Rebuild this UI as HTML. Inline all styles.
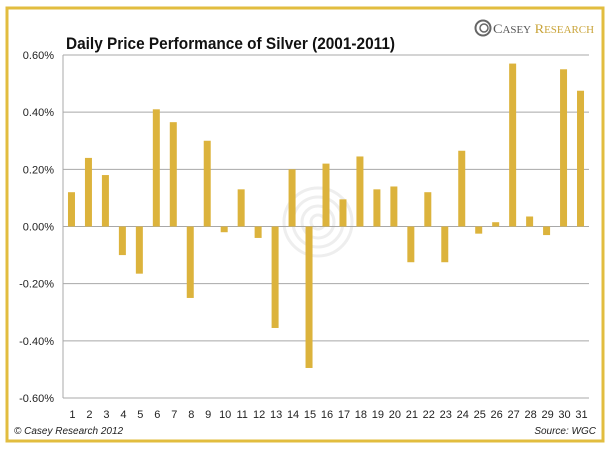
<!DOCTYPE html>
<html><head><meta charset="utf-8"><style>
body{margin:0;background:#fff;}
svg{display:block;font-family:"Liberation Sans",sans-serif;}
</style></head><body>
<svg id="c" width="611" height="450">
<rect x="7" y="8" width="596" height="433" fill="#fff" stroke="#e2bd3f" stroke-width="3"/>
<text x="66" y="49" font-size="17" font-weight="bold" fill="#111" textLength="329" lengthAdjust="spacingAndGlyphs">Daily Price Performance of Silver (2001-2011)</text>
<g>
<circle cx="483" cy="28" r="7.5" fill="none" stroke="#666" stroke-width="2"/>
<circle cx="484" cy="28" r="4" fill="none" stroke="#666" stroke-width="1.5"/>
<text x="493" y="33" font-family="Liberation Serif,serif" font-size="13" fill="#555" textLength="101" lengthAdjust="spacingAndGlyphs">C<tspan font-size="10">ASEY</tspan> <tspan fill="#c9a43a">R</tspan><tspan fill="#c9a43a" font-size="10">ESEARCH</tspan></text>
</g>
<g fill="none" stroke="#eee" stroke-width="3">
<circle cx="318" cy="222" r="34"/><circle cx="318" cy="222" r="25"/><circle cx="318" cy="222" r="16"/><circle cx="318" cy="222" r="7"/>
</g>
<g id="grid"></g><g id="bars"></g><g id="labels"></g>
<text x="14" y="434" font-size="10" font-style="italic" fill="#222">© Casey Research 2012</text>
<text x="596" y="434" font-size="10" font-style="italic" fill="#222" text-anchor="end">Source: WGC</text>
</svg>
<script>
const categories=[1,2,3,4,5,6,7,8,9,10,11,12,13,14,15,16,17,18,19,20,21,22,23,24,25,26,27,28,29,30,31];
const values=[0.12,0.24,0.18,-0.10,-0.165,0.41,0.365,-0.25,0.30,-0.02,0.13,-0.04,-0.355,0.20,-0.495,0.22,0.095,0.245,0.13,0.14,-0.125,0.12,-0.125,0.265,-0.025,0.015,0.57,0.035,-0.03,0.55,0.475];
const ticks=[0.6,0.4,0.2,0,-0.2,-0.4,-0.6];
const tickLabels=["0.60%","0.40%","0.20%","0.00%","-0.20%","-0.40%","-0.60%"];
const NS="http://www.w3.org/2000/svg";
const L=63,R=589,T=55,B=398,ymin=-0.6,ymax=0.6;
const y=v=>T+(ymax-v)/(ymax-ymin)*(B-T);
const bw=(R-L)/categories.length;
const x=i=>L+bw*i+bw/2;
function mk(tag,attrs,parent){const e=document.createElementNS(NS,tag);for(const k in attrs)e.setAttribute(k,attrs[k]);document.getElementById(parent).appendChild(e);return e;}
ticks.forEach((t,i)=>{
 const g=mk('line',{x1:L,x2:R,y1:y(t),y2:y(t),stroke:'#a8a8a8','stroke-width':1},'grid');
 
 
 const tx=mk('text',{x:54,y:y(t)+4,'font-size':11,'text-anchor':'end',fill:'#222'},'labels');
 tx.textContent=tickLabels[i];
 
 
});
const ax=mk('line',{x1:L,x2:L,y1:T,y2:B,stroke:'#a8a8a8','stroke-width':1},'grid');


categories.forEach((c,i)=>{
 const v=values[i];const top=Math.min(y(v),y(0));const h=Math.abs(y(v)-y(0));
 const b=mk('rect',{x:x(i)-3.5,y:top,width:7,height:Math.max(h,0.5),fill:'#dcb33c'},'bars');
 
 
 const tx=mk('text',{x:x(i)+1,y:418,'font-size':11,'text-anchor':'middle',fill:'#222'},'labels');
 tx.textContent=c;
 
 
});
</script>
</body></html>
